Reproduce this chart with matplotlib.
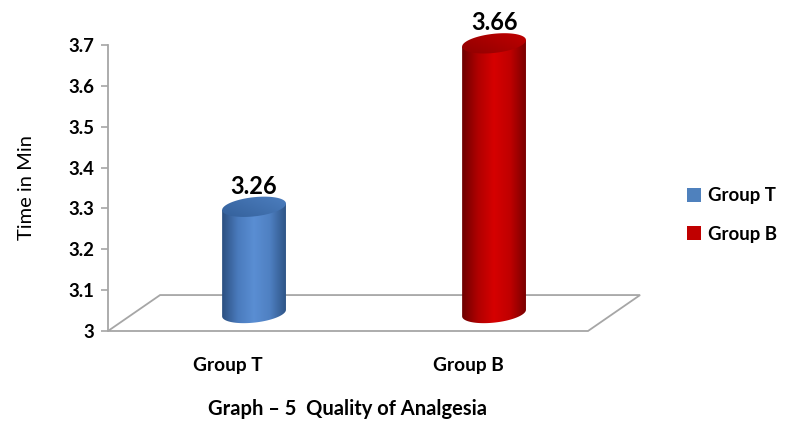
"""Graph 5: quality of analgesia, drawn as Excel-style 3D cylinders."""

import matplotlib

matplotlib.use("Agg")
import matplotlib.pyplot as plt
import numpy as np
from matplotlib.colors import LinearSegmentedColormap
from matplotlib.patches import Patch, Polygon

groups = ["Group T", "Group B"]
times = [3.26, 3.66]
y_ticks = [3.0, 3.1, 3.2, 3.3, 3.4, 3.5, 3.6, 3.7]
y_tick_labels = ["3", "3.1", "3.2", "3.3", "3.4", "3.5", "3.6", "3.7"]

# side shading (left edge -> highlight -> right edge) and lid shading per group
body_colors = [
    ["#2b4f80", "#4a7bbd", "#5a8ed3", "#4f80c2", "#2f5587"],
    ["#6e0000", "#b00000", "#d60000", "#c00000", "#7a0000"],
]
lid_colors = [["#335f99", "#4d7fc0"], ["#8e0000", "#c20000"]]
legend_colors = ["#4f81bd", "#c00000"]

FONT = "Lato"
Y0, Y1 = 3.0, 3.7
DX, DY = 0.217, 0.088      # floor depth offset (x units, value units)
HALF_W = 0.133             # cylinder radius in x units
HALF_H = 0.0235            # ellipse half height in value units
SHEAR = 0.008              # lids lean up to the right


def ellipse_pts(xc, yc, t):
    return np.column_stack([xc + HALF_W * np.cos(t),
                            yc + HALF_H * np.sin(t) + SHEAR * np.cos(t)])


def draw_cylinder(ax, xc, y_base, y_top, body, lid):
    t_low = np.linspace(np.pi, 2 * np.pi, 80)
    bottom = ellipse_pts(xc, y_base, t_low)
    top_right = ellipse_pts(xc, y_top, np.array([0.0]))
    top_left = ellipse_pts(xc, y_top, np.array([np.pi]))
    outline = np.vstack([top_left, bottom, top_right])
    side = Polygon(outline, closed=True, facecolor="none", edgecolor="none")
    ax.add_patch(side)
    grad = np.linspace(0, 1, 256).reshape(1, -1)
    cmap = LinearSegmentedColormap.from_list("side", body)
    im = ax.imshow(grad, cmap=cmap, aspect="auto", zorder=3,
                   extent=(xc - HALF_W, xc + HALF_W, y_base - 0.05, y_top + 0.05))
    im.set_clip_path(side)

    cap_pts = ellipse_pts(xc, y_top, np.linspace(0, 2 * np.pi, 120))
    cap = Polygon(cap_pts, closed=True, facecolor="none", edgecolor="none")
    ax.add_patch(cap)
    xx, yy = np.meshgrid(np.linspace(0, 1, 64), np.linspace(0, 1, 64))
    lid_grad = (xx + (1 - yy)) / 2
    lid_cmap = LinearSegmentedColormap.from_list("lid", lid)
    im2 = ax.imshow(lid_grad, cmap=lid_cmap, aspect="auto", zorder=4, origin="upper",
                    extent=(xc - HALF_W, xc + HALF_W,
                            y_top - HALF_H - SHEAR, y_top + HALF_H + SHEAR))
    im2.set_clip_path(cap)


fig = plt.figure(figsize=(7.92, 4.22), dpi=100)
# pixel mapping: x=0 -> 228px, 240px per category; y=3 -> 331px, 408.6px per unit
px_x, px_y = 240.0, 408.6
xlim = (-0.6, 1.8)
ylim = (2.95, 3.76)
left = 228 + xlim[0] * px_x
right = 228 + xlim[1] * px_x
bottom = 331 + (Y0 - ylim[0]) * px_y
top = 331 - (ylim[1] - Y0) * px_y
ax = fig.add_axes([left / 792, (422 - bottom) / 422,
                   (right - left) / 792, (bottom - top) / 422])
ax.set_xlim(*xlim)
ax.set_ylim(*ylim)

grey = "#a6a6a6"
x_front = (-0.5, 1.5)
floor = [(x_front[0], Y0), (x_front[1], Y0),
         (x_front[1] + DX, Y0 + DY), (x_front[0] + DX, Y0 + DY)]
ax.add_patch(Polygon(floor, closed=True, facecolor="none", edgecolor=grey,
                     linewidth=1.3, zorder=1))

for i, v in enumerate(times):
    xc = i + DX / 2
    draw_cylinder(ax, xc, Y0 + DY / 2, v + DY / 2, body_colors[i], lid_colors[i])
    ax.text(xc, v + DY / 2 + HALF_H + 0.009, f"{v:.2f}", ha="center", va="baseline",
            fontsize=17, fontweight="bold", family=FONT, zorder=5)

for s in ["top", "right", "bottom"]:
    ax.spines[s].set_visible(False)
ax.spines["left"].set_position(("data", x_front[0]))
ax.spines["left"].set_bounds(Y0, Y1)
ax.spines["left"].set_color(grey)
ax.spines["left"].set_linewidth(1.3)
ax.set_yticks(y_ticks, y_tick_labels)
ax.tick_params(axis="y", length=5, width=1.2, color=grey, pad=5)
for lab in ax.get_yticklabels():
    lab.set_fontweight("bold")
    lab.set_fontsize(13.4)
    lab.set_family(FONT)
ax.set_xticks(range(len(groups)), groups)
ax.tick_params(axis="x", length=0, pad=4)
for lab in ax.get_xticklabels():
    lab.set_fontweight("bold")
    lab.set_fontsize(13.8)
    lab.set_family(FONT)
ax.patch.set_visible(False)

fig.text(27 / 792, 1 - 188 / 422, "Time in Min", rotation=90, ha="center",
         va="center", fontsize=14.5, family=FONT)
fig.text(348 / 792, 1 - 409 / 422, "Graph \u2013 5  Quality of Analgesia", ha="center",
         va="center", fontsize=14.5, fontweight="bold", family=FONT)

handles = [Patch(facecolor=c, edgecolor="none") for c in legend_colors]
fig.legend(handles, groups, loc="center left", bbox_to_anchor=(674 / 792, 1 - 215 / 422),
           frameon=False, handlelength=0.75, handleheight=0.75, handletextpad=0.35,
           labelspacing=1.15, borderaxespad=0.3,
           prop={"family": FONT, "weight": "bold", "size": 13.4})

fig.savefig("out.png", dpi=100)
